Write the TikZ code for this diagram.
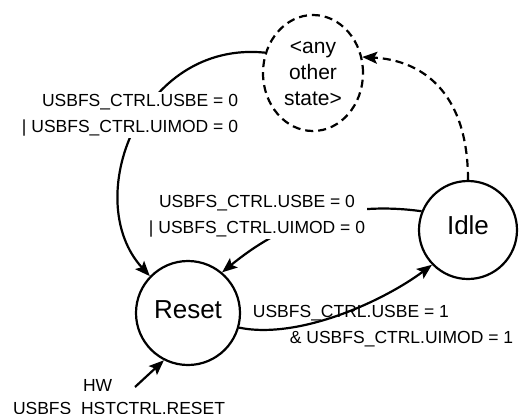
\documentclass[tikz,border=0pt]{standalone}
\usepackage{fontspec}
\setmainfont{Liberation Sans}
\usetikzlibrary{arrows.meta,shapes.geometric}
\begin{document}
\begin{tikzpicture}[x=1pt,y=-1pt,
  state/.style={draw,circle,line width=2.2pt,inner sep=0pt,font=\fontsize{26}{30}\selectfont},
  anystate/.style={draw,ellipse,line width=2.2pt,dash pattern=on 8pt off 5pt,inner sep=0pt,
    minimum width=100pt,minimum height=116pt,align=center,font=\fontsize{21}{26}\selectfont},
  arr/.style={line width=2.2pt,-{Stealth[length=15pt,width=12pt,inset=3pt]}},
  darr/.style={arr,dash pattern=on 8pt off 5pt},
  lbl/.style={font=\fontsize{17.5}{26}\selectfont,inner sep=2pt},
]
\fill[white] (0,0) rectangle (520,413);
\useasboundingbox (0,0) rectangle (520,413);

% states
\node[anystate] (oth) at (313,73) {<any\\other\\state>};
\node[state,minimum size=98pt,text depth=10pt] (idle) at (468,230) {Idle};
\node[state,minimum size=104pt,text depth=6pt] (reset) at (188,313) {Reset};

% transitions hidden behind labels
\draw[arr] (oth.157) .. controls (140,40) and (80,200) .. (reset.136);
\draw[arr] (idle.158) .. controls (340,200) and (280,225) .. (reset.50);
\draw[darr] (idle.90) .. controls (468,90) and (420,60) .. (oth.18);

% labels
\node[lbl,fill=white,align=right] (la) at (130,115) {USBFS\_CTRL.USBE = 0\\| USBFS\_CTRL.UIMOD = 0};
\node[lbl,fill=white,align=center] (lc) at (257,216) {USBFS\_CTRL.USBE = 0\\| USBFS\_CTRL.UIMOD = 0};
\node[lbl,align=left] (ld) at (383,326) {USBFS\_CTRL.USBE = 1\\\hspace*{37pt}\& USBFS\_CTRL.UIMOD = 1};
\node[lbl,align=left,font=\fontsize{17.5}{23}\selectfont] (le) at (119,398.5) {\hspace*{70pt}HW\\USBFS\_HSTCTRL.RESET};

\draw[arr] (reset.344) .. controls (300,340) and (385,300) .. (idle.224);
\coordinate (hw) at (135,387);
\draw[arr] (hw) -- (reset.243);
\end{tikzpicture}
\end{document}
